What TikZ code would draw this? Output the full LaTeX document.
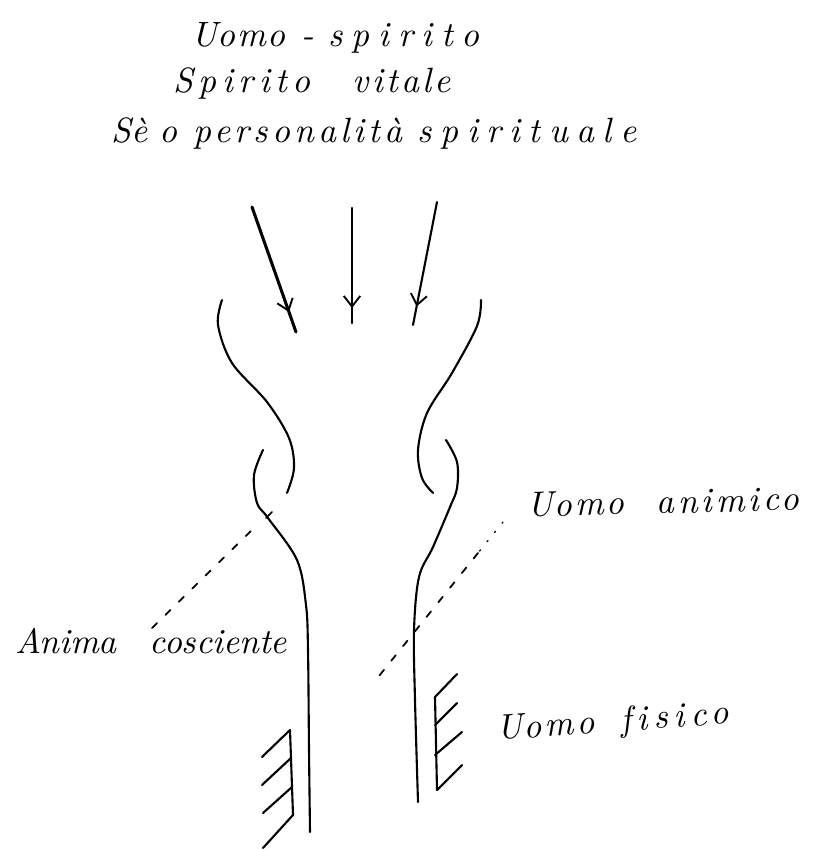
\documentclass[tikz,border=0pt]{standalone}
\usepackage{fontspec}
\newfontfamily\handfont{lmroman10-italic.otf}[Ligatures=NoCommon]
\newcommand\hw[2]{{\addfontfeatures{LetterSpace=#1}#2}}
\usetikzlibrary{arrows.meta,decorations.markings}
\tikzset{
  contour/.style={line width=1.8pt, line cap=round, line join=round},
  hatchline/.style={line width=1.8pt, line cap=round, line join=round},
  leader/.style={line width=1.5pt, dash pattern=on 6pt off 10pt, line cap=round},
  dotleader/.style={line width=1.1pt, dash pattern=on 1.2pt off 9pt, line cap=round},
  spiritarrow/.style={line cap=round, postaction={decorate},
    decoration={markings, mark=at position #1 with {\arrow{Straight Barb[length=9pt,width=14pt,line width=1.6pt]}}}},
  hand/.style={font=\handfont\fontsize{30}{36}\selectfont, inner sep=0pt, anchor=base west},
}
\begin{document}
\begin{tikzpicture}[x=0.03cm,y=-0.03cm]
\useasboundingbox (0,0) rectangle (815,850);
% titles
\node[hand] (t1) at (191,47) {\hw{5}{Uomo}\hspace{14pt}\hw{0}{-}\hspace{12pt}\hw{25}{spirito}};
\node[hand] (t2) at (173,93) {\hw{16}{Spirito}\hspace{36pt}\hw{9}{vitale}};
\node[hand] (t3) at (111,143) {\hw{2}{Sè}\hspace{10pt}\hw{0}{o}\hspace{14pt}\hw{12}{personalità}\hspace{13pt}\hw{24}{spirituale}};
% arrows
\coordinate (a1s) at (252,207); \coordinate (a1e) at (296,332);
\coordinate (a2s) at (352,208); \coordinate (a2e) at (352,323);
\coordinate (a3s) at (437,202); \coordinate (a3e) at (413,325);
\draw[line width=2.6pt, spiritarrow=0.84] (a1s) -- (a1e);
\draw[line width=1.8pt, spiritarrow=0.87] (a2s) -- (a2e);
\draw[line width=1.8pt, spiritarrow=0.85] (a3s) -- (a3e);
% left upper curve
\draw[contour] plot[smooth, tension=0.55] coordinates {(222,300) (218,325) (232,363) (267,402) (289,438) (294,468) (287,493)};
% left tube
\draw[contour] plot[smooth, tension=0.55] coordinates {(263,450) (254,475) (257,503) (268,518) (297,560) (306,605) (308,650) (309,750) (310,832)};
% right upper curve
\draw[contour] plot[smooth, tension=0.55] coordinates {(481,300) (477,326) (452,373) (427,413) (418,450) (422,478) (433,493)};
% right tube
\draw[contour] plot[smooth, tension=0.55] coordinates {(446,440) (457,462) (457,488) (450,507) (433,547) (419,577) (414,630) (415,700) (418,802)};
% hatches left
\draw[hatchline] (262,757) -- (290,730) -- (293,815) -- (263,848);
\draw[hatchline] (291,758) -- (262,785);
\draw[hatchline] (292,787) -- (263,813);
% hatches right
\draw[hatchline] (457,674) -- (435,697) -- (437,790) -- (462,765);
\draw[hatchline] (435,725) -- (457,703);
\draw[hatchline] (435,755) -- (462,732);
% labels
\node[hand] (anima) at (15,653) {\hw{0}{Anima}\hspace{28pt}\hw{0}{cosciente}};
\node[hand, rotate=1.5] (animico) at (527,517) {\hw{8}{Uomo}\hspace{27pt}\hw{11}{animico}};
\node[hand, rotate=4] (fisico) at (497,740) {\hw{9}{Uomo}\hspace{22pt}\hw{17}{fisico}};
% leaders
\coordinate (l1a) at (152,628); \coordinate (l1b) at (258,524);
\draw[leader] (l1a) -- (l1b);
\draw[line width=1.3pt, line cap=round] (266,518) -- (272,512);
\coordinate (l2a) at (503,522); \coordinate (l2m) at (478,553); \coordinate (l2b) at (375,681);
\draw[dotleader] (l2a) -- (l2m);
\draw[leader] (l2m) -- (l2b);
\end{tikzpicture}
\end{document}
